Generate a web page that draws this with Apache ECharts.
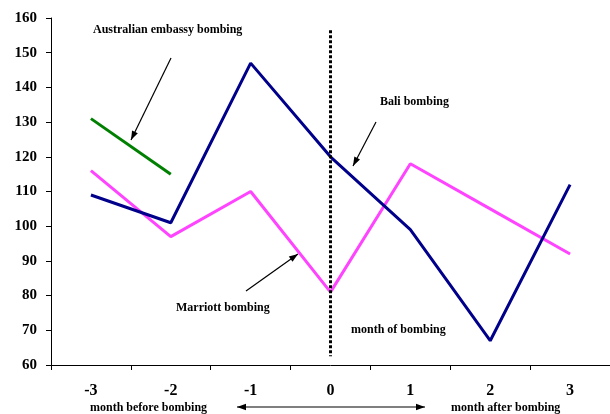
<!DOCTYPE html>
<html>
<head>
<meta charset="utf-8">
<script src="https://cdn.jsdelivr.net/npm/echarts@6/dist/echarts.min.js"></script>
<style>
  html, body { margin: 0; padding: 0; background: #fff; }
  #chart { width: 610px; height: 414px; }
</style>
</head>
<body>
<div id="chart"></div>
<script>
// Months relative to the bombing month
const months = ['-3', '-2', '-1', '0', '1', '2', '3'];
// Index series
const navySeries = [109, 101, 147, 120, 99, 67, 112];
const pinkSeries = [116, 97, 110, 81, 118, 105, 92];
const greenSeries = [131, 115, null, null, null, null, null];
// Vertical marker at the bombing month
const markerMonth = '0';
const markerRange = [62.5, 156.5];

const FONT = '"Liberation Serif", "Times New Roman", serif';

const chart = echarts.init(document.getElementById('chart'), null, { renderer: 'canvas' });

// Straight arrow built from a line and a filled head (both ends optional)
function arrow(x1, y1, x2, y2, heads) {
  const out = [{
    type: 'line', silent: true,
    shape: { x1: x1, y1: y1, x2: x2, y2: y2 },
    style: { stroke: '#000', lineWidth: 1.2 }
  }];
  const head = (tx, ty, fx, fy) => {
    const a = Math.atan2(ty - fy, tx - fx);
    const L = 9, W = 3.2;
    const bx = tx - L * Math.cos(a), by = ty - L * Math.sin(a);
    out.push({
      type: 'polygon', silent: true,
      shape: { points: [[tx, ty],
        [bx + W * Math.sin(a), by - W * Math.cos(a)],
        [bx - W * Math.sin(a), by + W * Math.cos(a)]] },
      style: { fill: '#000' }
    });
  };
  if (heads.end) head(x2, y2, x1, y1);
  if (heads.start) head(x1, y1, x2, y2);
  return out;
}

function note(text, x, y) {
  return {
    type: 'text', silent: true, left: x, top: y,
    style: { text: text, font: 'bold 12px ' + FONT, fill: '#000' }
  };
}

const graphics = [].concat(
  note('Australian embassy bombing', 93, 24),
  note('Bali bombing', 380, 96),
  note('Marriott bombing', 176, 302),
  note('month of bombing', 351, 324),
  note('month before bombing', 90, 402),
  note('month after bombing', 451, 402),
  arrow(171, 58, 131, 140, { end: true }),
  arrow(376, 122, 353, 166, { end: true }),
  arrow(246, 291, 298, 254, { end: true }),
  arrow(237, 407, 425, 407, { start: true, end: true })
);

chart.setOption({
  animation: false,
  backgroundColor: '#fff',
  grid: { left: 51, right: 0, top: 18, bottom: 49, containLabel: false },
  xAxis: {
    type: 'category',
    data: months,
    boundaryGap: true,
    axisLine: { lineStyle: { color: '#000', width: 1 } },
    axisTick: { show: true, inside: false, length: 5, lineStyle: { color: '#000' } },
    axisLabel: { color: '#000', fontFamily: FONT, fontWeight: 'bold', fontSize: 16, margin: 18 },
    splitLine: { show: false }
  },
  yAxis: {
    type: 'value',
    min: 60, max: 160, interval: 10,
    axisLine: { show: true, lineStyle: { color: '#000', width: 1 } },
    axisTick: { show: true, inside: false, length: 5, lineStyle: { color: '#000' } },
    axisLabel: { color: '#000', fontFamily: FONT, fontWeight: 'bold', fontSize: 15, margin: 14 },
    splitLine: { show: false }
  },
  series: [
    {
      name: 'navy', type: 'line', data: navySeries,
      symbol: 'none', lineStyle: { color: '#00008B', width: 3 }, z: 3,
      markLine: {
        silent: true, symbol: 'none', label: { show: false },
        lineStyle: { color: '#000', type: [3, 2], width: 3 },
        data: [[
          { coord: [markerMonth, markerRange[1]] },
          { coord: [markerMonth, markerRange[0]] }
        ]]
      }
    },
    {
      name: 'pink', type: 'line', data: pinkSeries,
      symbol: 'none', lineStyle: { color: '#FF44FF', width: 3 }, z: 2
    },
    {
      name: 'green', type: 'line', data: greenSeries,
      symbol: 'none', lineStyle: { color: '#008000', width: 3 }, z: 2
    }
  ],
  graphic: graphics
});
</script>
</body>
</html>
